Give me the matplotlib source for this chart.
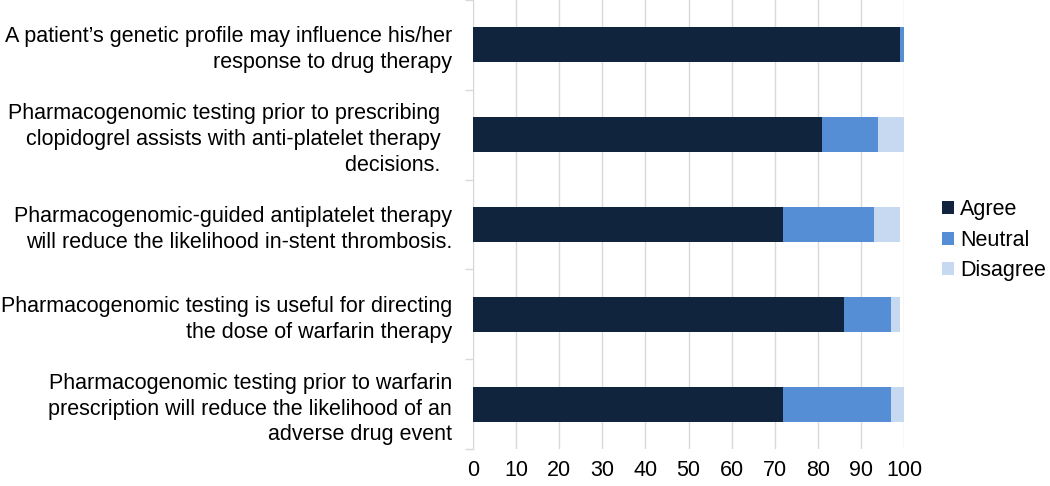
import matplotlib
matplotlib.use('Agg')
import matplotlib.pyplot as plt
import numpy as np

statements = [
    'A patient\u2019s genetic profile may influence his/her\nresponse to drug therapy',
    'Pharmacogenomic testing prior to prescribing  \nclopidogrel assists with anti-platelet therapy  \ndecisions.  ',
    'Pharmacogenomic-guided antiplatelet therapy\nwill reduce the likelihood in-stent thrombosis.',
    'Pharmacogenomic testing is useful for directing\nthe dose of warfarin therapy',
    'Pharmacogenomic testing prior to warfarin\nprescription will reduce the likelihood of an\nadverse drug event',
]
agree = [99, 81, 72, 86, 72]
neutral = [1, 13, 21, 11, 25]
disagree = [0, 6, 6, 2, 3]

plt.rcParams['font.family'] = ['Liberation Sans', 'DejaVu Sans']

fig = plt.figure(figsize=(10.5, 4.86), dpi=100)
ax = fig.add_axes([473 / 1050, 37 / 486, 431 / 1050, 449 / 486])

y = np.arange(len(statements))
h = 0.39
ax.barh(y, agree, height=h, color='#10243E', label='Agree', zorder=3)
ax.barh(y, neutral, left=agree, height=h, color='#558ED5', label='Neutral', zorder=3)
left2 = np.array(agree) + np.array(neutral)
ax.barh(y, disagree, left=left2, height=h, color='#C6D9F1', label='Disagree', zorder=3)

ax.set_xlim(0, 100)
ax.set_ylim(len(statements) - 0.5, -0.5)
ax.set_xticks(range(0, 101, 10))
ax.set_yticks(y)
ax.set_yticklabels(statements, fontsize=15.5, linespacing=1.3)
ax.set_yticks(np.arange(-0.5, len(statements), 1), minor=True)
ax.tick_params(axis='y', which='major', length=0, pad=15)
ax.tick_params(axis='y', which='minor', length=6, color='#D9D9D9', width=1)
ax.tick_params(axis='x', length=0, labelsize=15.5, pad=8)
ax.grid(axis='x', color='#D9D9D9', linewidth=1, zorder=0)

for s in ['top', 'right', 'bottom']:
    ax.spines[s].set_visible(False)
ax.spines['left'].set_color('#D9D9D9')

leg = ax.legend(loc='center left', bbox_to_anchor=(1.043, 0.465), frameon=False,
                fontsize=15.5, handlelength=0.55, handleheight=0.55, handletextpad=0.3,
                labelspacing=0.45)

fig.savefig('out.png', dpi=100)
